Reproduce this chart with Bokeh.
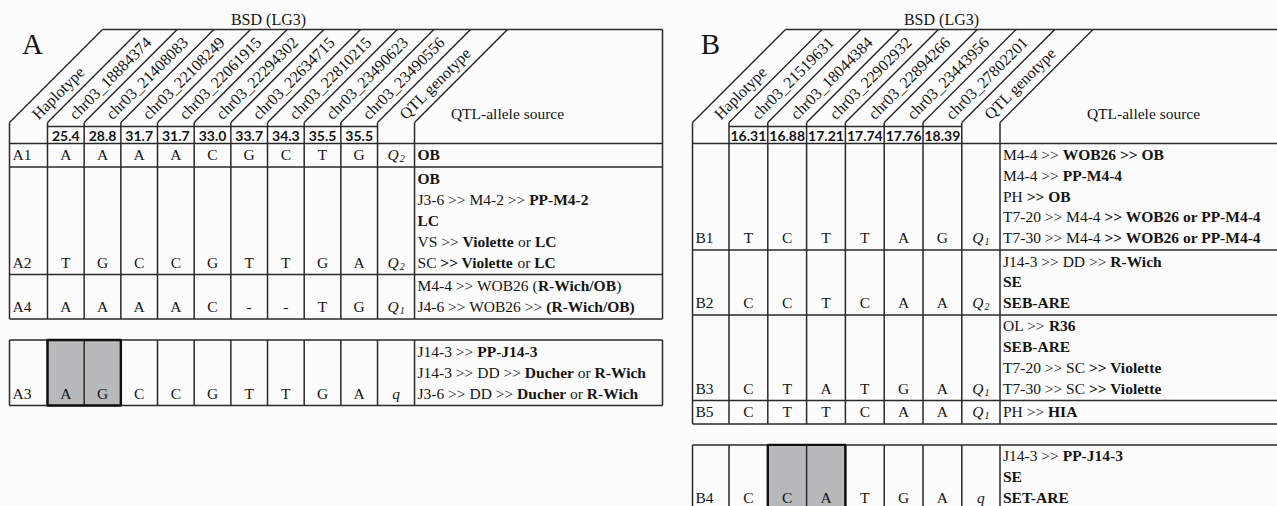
import math
import string
from bokeh.plotting import figure
from bokeh.models import Range1d, ColumnDataSource
from bokeh.embed import file_html
from bokeh.resources import INLINE

# ---------------- data ----------------
trait_label = "BSD (LG3)"
first_col = "Haplotype"
qtl_col = "QTL genotype"
source_col = "QTL-allele source"

a_markers = ["chr03_18884374", "chr03_21408083", "chr03_22108249", "chr03_22061915",
             "chr03_22294302", "chr03_22634715", "chr03_22810215", "chr03_23490623",
             "chr03_23490556"]
a_positions = ["25.4", "28.8", "31.7", "31.7", "33.0", "33.7", "34.3", "35.5", "35.5"]
a_haplotypes = ["A1", "A2", "A4", "A3"]
a_alleles = [["A", "A", "A", "A", "C", "G", "C", "T", "G"],
             ["T", "G", "C", "C", "G", "T", "T", "G", "A"],
             ["A", "A", "A", "A", "C", "-", "-", "T", "G"],
             ["A", "G", "C", "C", "G", "T", "T", "G", "A"]]
a_qtl = [("Q", "2"), ("Q", "2"), ("Q", "1"), ("q", "")]
a_block = [0, 0, 0, 1]
a_shaded = [[], [], [], [0, 1]]
a_sources = [
    ["**OB**"],
    ["**OB**", "J3-6 >> M4-2 >> **PP-M4-2**", "**LC**",
     "VS >> **Violette** or **LC**", "SC **>> Violette** or **LC**"],
    ["M4-4 >> WOB26 (**R-Wich/OB**)", "J4-6 >> WOB26 >> **(R-Wich/OB)**"],
    ["J14-3 >> **PP-J14-3**", "J14-3 >> DD >> **Ducher** or **R-Wich**",
     "J3-6 >> DD >> **Ducher** or **R-Wich**"],
]

b_markers = ["chr03_21519631", "chr03_18044384", "chr03_22902932", "chr03_22894266",
             "chr03_23443956", "chr03_27802201"]
b_positions = ["16.31", "16.88", "17.21", "17.74", "17.76", "18.39"]
b_haplotypes = ["B1", "B2", "B3", "B5", "B4"]
b_alleles = [["T", "C", "T", "T", "A", "G"],
             ["C", "C", "T", "C", "A", "A"],
             ["C", "T", "A", "T", "G", "A"],
             ["C", "T", "T", "C", "A", "A"],
             ["C", "C", "A", "T", "G", "A"]]
b_qtl = [("Q", "1"), ("Q", "2"), ("Q", "1"), ("Q", "1"), ("q", "")]
b_block = [0, 0, 0, 0, 1]
b_shaded = [[], [], [], [], [1, 2]]
b_sources = [
    ["M4-4 >> **WOB26 >> OB**", "M4-4 >> **PP-M4-4**", "PH **>> OB**",
     "T7-20 >> M4-4 **>> WOB26 or PP-M4-4**", "T7-30 >> M4-4 **>> WOB26 or PP-M4-4**"],
    ["J14-3 >> DD >> **R-Wich**", "**SE**", "**SEB-ARE**"],
    ["OL >> **R36**", "**SEB-ARE**", "T7-20 >> SC **>> Violette**", "T7-30 >> SC **>> Violette**"],
    ["PH >> **HIA**"],
    ["J14-3 >> **PP-J14-3**", "**SE**", "**SET-ARE**"],
]

# ---------------- layout / style ----------------
W, H = 1277, 506
FONT = "Liberation Serif"
FS = 15.5
LINE = "#2b2828"
BG = "#fcfcfd"
SHADE = "#b8b9bb"
Y_TOP, Y_DIAG, Y_NUM, Y_BODY = 29, 122, 126, 143
DIAG = 93

panels = [
    dict(letter="A", letter_xy=(32, 43), title_x=268, src_x=507, left=9, hap_w=38,
         mk_w=36.67, qtl_w=37, right=662, lh=21.0, markers=a_markers, positions=a_positions,
         haps=a_haplotypes, alleles=a_alleles, qtl=a_qtl, block=a_block,
         shaded=a_shaded, sources=a_sources),
    dict(letter="B", letter_xy=(710, 43), title_x=941, src_x=1143, left=692, hap_w=36.5,
         mk_w=38.8, qtl_w=38.2, right=1295, lh=20.8, markers=b_markers, positions=b_positions,
         haps=b_haplotypes, alleles=b_alleles, qtl=b_qtl, block=b_block,
         shaded=b_shaded, sources=b_sources),
]

REG = dict(zip(string.ascii_uppercase, [722, 667, 667, 722, 611, 556, 722, 722, 333, 389, 722, 611, 889,
                                        722, 722, 556, 722, 667, 556, 611, 722, 722, 944, 722, 722, 611]))
REG.update(zip(string.ascii_lowercase, [444, 500, 444, 500, 444, 333, 500, 500, 278, 278, 500, 278, 778,
                                        500, 500, 500, 500, 333, 389, 278, 500, 500, 722, 500, 500, 444]))
BOLD = dict(zip(string.ascii_uppercase, [722, 667, 722, 722, 667, 611, 778, 778, 389, 500, 778, 667, 944,
                                         722, 778, 611, 778, 722, 556, 667, 722, 722, 1000, 722, 722, 667]))
BOLD.update(zip(string.ascii_lowercase, [500, 556, 444, 556, 444, 333, 500, 556, 278, 333, 556, 278, 833,
                                         556, 500, 556, 556, 444, 389, 333, 556, 500, 722, 500, 500, 444]))
for d, gt in ((REG, 564), (BOLD, 570)):
    d.update({" ": 250, "-": 333, "(": 333, ")": 333, "/": 278, ">": gt, "_": 500})
    d.update({c: 500 for c in string.digits})


def text_w(s, bold):
    tab = BOLD if bold else REG
    return sum(tab.get(c, 500) for c in s) / 1000.0 * FS


def Y(y):
    return -y


p = figure(width=W, height=H, x_range=Range1d(0, W), y_range=Range1d(-H, 0),
           toolbar_location=None, output_backend="svg", min_border=0)
p.axis.visible = False
p.grid.visible = False
p.outline_line_color = None
p.background_fill_color = BG
p.border_fill_color = BG

segs = dict(x0=[], y0=[], x1=[], y1=[])


def seg(x0, y0, x1, y1):
    segs["x0"].append(x0); segs["y0"].append(Y(y0))
    segs["x1"].append(x1); segs["y1"].append(Y(y1))


txt = {k: dict(x=[], y=[], t=[]) for k in ("reg", "ital", "sub", "num", "hdr", "big", "title")}


def put(kind, x, y, t):
    txt[kind]["x"].append(x); txt[kind]["y"].append(Y(y)); txt[kind]["t"].append(t)


shade_q = dict(l=[], r=[], t=[], b=[])
frame_q = dict(l=[], r=[], t=[], b=[])
ctr = dict(x=[], y=[], t=[])
lft = dict(x=[], y=[], t=[])
lftb = dict(x=[], y=[], t=[])

for P in panels:
    n = len(P["markers"])
    LH = P["lh"]
    bounds = [P["left"], P["left"] + P["hap_w"]]
    for i in range(n):
        bounds.append(bounds[-1] + P["mk_w"])
    bounds.append(bounds[-1] + P["qtl_w"])
    right = P["right"]
    src_left = bounds[-1]

    put("big", P["letter_xy"][0], P["letter_xy"][1], P["letter"])
    put("title", P["title_x"], 19, trait_label)
    ctr["x"].append(P["src_x"]); ctr["y"].append(Y(113)); ctr["t"].append(source_col)

    seg(bounds[0] + DIAG, Y_TOP, right, Y_TOP)
    for b in bounds:
        seg(b, Y_DIAG, b + DIAG, Y_TOP)
    seg(bounds[1], Y_NUM, bounds[1 + n], Y_NUM)

    labels = [first_col] + P["markers"] + [qtl_col]
    for i, lab in enumerate(labels):
        xm = (bounds[i] + bounds[i + 1]) / 2.0
        put("hdr", xm + 6, Y_DIAG - 6, lab)
    for i, pos in enumerate(P["positions"]):
        put("num", (bounds[1 + i] + bounds[2 + i]) / 2.0, 135, pos)

    block_tops = {0: Y_BODY}
    y = Y_BODY
    cur_block = 0
    block_ranges = {}
    for r, hap in enumerate(P["haps"]):
        blk = P["block"][r]
        if blk != cur_block:
            block_ranges[cur_block] = (block_tops[cur_block], y)
            y = y + 21
            block_tops[blk] = y
            cur_block = blk
        lines = P["sources"][r]
        h = len(lines) * LH + 2.5
        top, bot = y, y + h
        ylast = top + 11 + (len(lines) - 1) * LH
        sh = P["shaded"][r]
        for c in sh:
            shade_q["l"].append(bounds[1 + c]); shade_q["r"].append(bounds[2 + c])
            shade_q["t"].append(Y(top)); shade_q["b"].append(Y(bot))
        if sh:
            frame_q["l"].append(bounds[1 + min(sh)]); frame_q["r"].append(bounds[2 + max(sh)])
            frame_q["t"].append(Y(top)); frame_q["b"].append(Y(bot))
        put("reg", bounds[0] + 3, ylast, hap)
        for i, al in enumerate(P["alleles"][r]):
            ctr["x"].append((bounds[1 + i] + bounds[2 + i]) / 2.0); ctr["y"].append(Y(ylast)); ctr["t"].append(al)
        qc = (bounds[1 + n] + bounds[2 + n]) / 2.0
        main, sub = P["qtl"][r]
        if sub:
            wq = 0.722 * FS
            x0 = qc - (wq + 6) / 2.0
            put("ital", x0, ylast, main)
            put("sub", x0 + wq + 1, ylast + 4, sub)
        else:
            put("ital", qc - 0.25 * FS, ylast, main)
        for li, line in enumerate(lines):
            ly = top + 11 + li * LH
            x = src_left + 3
            for k, part in enumerate(line.split("**")):
                if not part:
                    continue
                bold = (k % 2 == 1)
                lead = len(part) - len(part.lstrip(" "))
                tgt = lftb if bold else lft
                tgt["x"].append(x + text_w(" " * lead, bold)); tgt["y"].append(Y(ly))
                tgt["t"].append(part.strip(" "))
                x += text_w(part, bold)
        seg(bounds[0], bot, right, bot)
        y = bot
    block_ranges[cur_block] = (block_tops[cur_block], y)

    for blk, (t0, t1) in block_ranges.items():
        seg(bounds[0], t0, right, t0)
        for b in bounds:
            seg(b, Y_DIAG if blk == 0 else t0, b, t1)
        seg(right, Y_TOP if blk == 0 else t0, right, t1)

p.quad(left="l", right="r", top="t", bottom="b", source=ColumnDataSource(shade_q),
       fill_color=SHADE, line_color=None)
p.segment(x0="x0", y0="y0", x1="x1", y1="y1", source=ColumnDataSource(segs),
          line_color=LINE, line_width=1.5)
p.quad(left="l", right="r", top="t", bottom="b", source=ColumnDataSource(frame_q),
       fill_color=None, line_color="#111111", line_width=2.4)


def draw(d, **kw):
    p.text(x="x", y="y", text="t", source=ColumnDataSource(d), text_color="#141414",
           text_baseline="middle", **kw)


draw(txt["reg"], text_font={"value": FONT}, text_font_size=f"{FS}px", text_align="left")
draw(lft, text_font={"value": FONT}, text_font_size=f"{FS}px", text_align="left")
draw(lftb, text_font={"value": FONT}, text_font_size=f"{FS}px", text_align="left",
     text_font_style="bold")
draw(ctr, text_font={"value": FONT}, text_font_size=f"{FS}px", text_align="center")
draw(txt["ital"], text_font={"value": FONT}, text_font_size=f"{FS}px", text_align="left",
     text_font_style="italic")
draw(txt["sub"], text_font={"value": FONT}, text_font_size="10px", text_align="left",
     text_font_style="italic")
draw(txt["num"], text_font={"value": "Lato"}, text_font_size="14px", text_align="center",
     text_font_style="bold")
draw(txt["hdr"], text_font={"value": FONT}, text_font_size="16px", text_align="left",
     angle=math.pi / 4)
draw(txt["title"], text_font={"value": FONT}, text_font_size="16px", text_align="center")
p.text(x="x", y="y", text="t", source=ColumnDataSource(txt["big"]), text_color="#141414",
       text_font={"value": FONT}, text_font_size="29px", text_align="center",
       text_baseline="alphabetic")

open("out.html", "w").write(file_html(p, INLINE))
